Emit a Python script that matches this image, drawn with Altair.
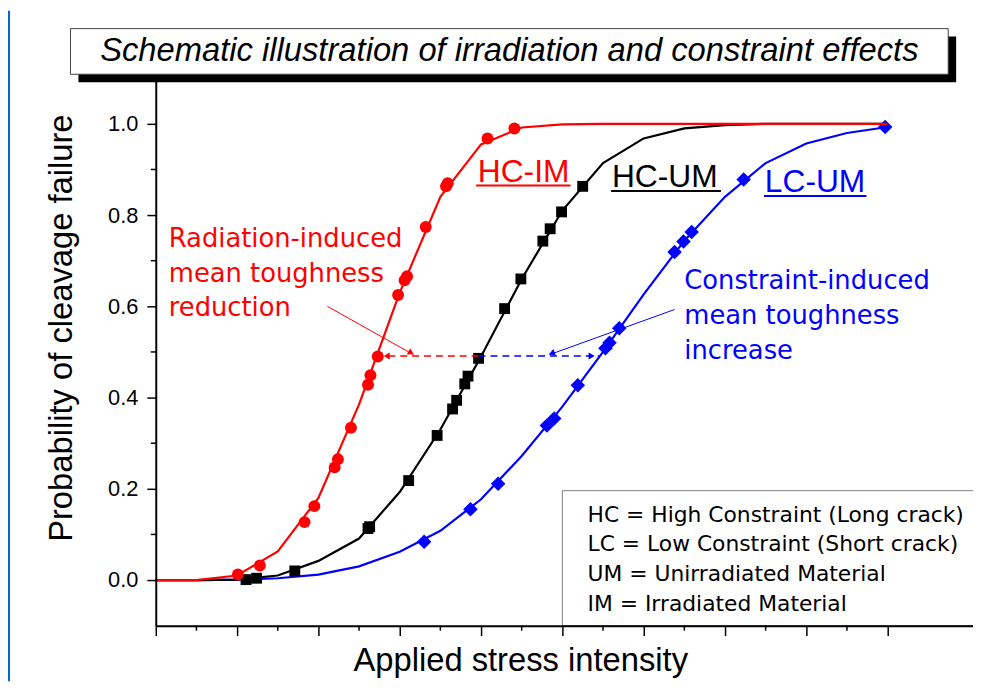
import altair as alt
import pandas as pd

# ---------------- data ----------------
series_names = ["HC-IM", "HC-UM", "LC-UM"]
series_colors = ["#FF0000", "#000000", "#0000FF"]

# fitted curves (polyline vertices)
curve_x_red = [0, 0.5, 1.0, 1.5, 2.0, 2.5, 3.0, 3.5, 4.0, 4.5, 5.0, 5.5, 9.0]
curve_y_red = [0, 0, 0.010, 0.063, 0.180, 0.385, 0.630, 0.840, 0.955, 0.992, 0.999, 1.0, 1.0]
curve_x_black = [0, 0.5, 1.0, 1.5, 2.0, 2.5, 3.0, 3.5, 4.0, 4.5, 5.0, 5.5, 6.0, 6.5, 7.0, 7.5, 9.0]
curve_y_black = [0, 0, 0.001, 0.010, 0.042, 0.091, 0.193, 0.330, 0.490, 0.660, 0.810, 0.914,
                 0.968, 0.990, 0.997, 1.0, 1.0]
curve_x_blue = [0, 0.5, 1.0, 1.5, 2.0, 2.5, 3.0, 3.5, 4.0, 4.5, 5.0, 5.5, 6.0, 6.5, 7.0, 7.5,
                8.0, 8.5, 9.0]
curve_y_blue = [0, 0, 0.001, 0.004, 0.012, 0.030, 0.062, 0.108, 0.177, 0.272, 0.380, 0.500,
                0.626, 0.744, 0.840, 0.914, 0.957, 0.980, 0.993]

# experimental points
pts_x_red = [1.01, 1.28, 1.83, 1.95, 2.20, 2.24, 2.40, 2.61, 2.64, 2.73, 2.98, 3.06, 3.09,
             3.32, 3.57, 3.59, 4.08, 4.41]
pts_y_red = [0.012, 0.032, 0.127, 0.162, 0.247, 0.265, 0.334, 0.428, 0.449, 0.490, 0.625,
             0.657, 0.666, 0.774, 0.863, 0.870, 0.968, 0.990]
pts_x_black = [1.11, 1.24, 1.71, 2.61, 2.63, 3.11, 3.46, 3.65, 3.70, 3.80, 3.84, 3.97, 4.29,
               4.49, 4.76, 4.85, 4.99, 5.25]
pts_y_black = [0.001, 0.004, 0.020, 0.113, 0.117, 0.218, 0.317, 0.375, 0.394, 0.430, 0.447,
               0.486, 0.595, 0.660, 0.743, 0.770, 0.807, 0.863]
pts_x_blue = [3.30, 3.87, 4.21, 4.81, 4.90, 5.19, 5.53, 5.58, 5.70, 6.38, 6.49, 6.59, 7.23, 8.97]
pts_y_blue = [0.084, 0.155, 0.211, 0.339, 0.354, 0.427, 0.508, 0.520, 0.552, 0.719, 0.742,
              0.763, 0.878, 0.993]

# axes
x_domain = [0, 10.05]
y_domain = [-0.1, 1.1]
x_major = [0, 1, 2, 3, 4, 5, 6, 7, 8, 9]
x_minor = [0.5, 1.5, 2.5, 3.5, 4.5, 5.5, 6.5, 7.5, 8.5]
y_major = [0.0, 0.2, 0.4, 0.6, 0.8, 1.0]
y_minor = [0.1, 0.3, 0.5, 0.7, 0.9]

# texts
title_text = ["Schematic illustration of irradiation and constraint effects"]
x_title = ["Applied stress intensity"]
y_title = ["Probability of cleavage failure"]

curve_labels = ["HC-IM", "HC-UM", "LC-UM"]
curve_label_x = [3.96, 5.61, 7.49]
curve_label_y = [0.872, 0.862, 0.851]
underline_x1 = [3.94, 5.60, 7.48]
underline_x2 = [5.10, 6.95, 8.74]
underline_y = [0.865, 0.853, 0.842]

red_note = ["Radiation-induced", "mean toughness", "reduction"]
red_note_x = [0.16, 0.16, 0.16]
red_note_y = [0.730, 0.654, 0.578]
blue_note = ["Constraint-induced", "mean toughness", "increase"]
blue_note_x = [6.50, 6.50, 6.50]
blue_note_y = [0.637, 0.561, 0.485]

key_lines = ["HC = High Constraint (Long crack)", "LC = Low Constraint (Short crack)",
             "UM = Unirradiated Material", "IM = Irradiated Material"]
key_x = [5.31, 5.31, 5.31, 5.31]
key_y = [0.128, 0.063, -0.002, -0.067]
key_box = [5.0, 10.4, 0.196, -0.1]  # x, x2, y, y2

# dashed shift lines (mean toughness level)
shift_x1 = [3.97, 3.97]
shift_x2 = [2.74, 5.46]
shift_y = [0.491, 0.491]
shift_colors = ["#FF0000", "#0000FF"]

# annotation arrows
arrow_x1 = [2.11, 6.38]
arrow_y1 = [0.600, 0.593]
arrow_x2 = [3.17, 4.84]
arrow_y2 = [0.494, 0.494]
arrow_colors = ["#FF0000", "#0000FF"]

# arrow heads
head_x = [2.84, 5.36, 3.14, 4.87]
head_y = [0.491, 0.491, 0.498, 0.497]
head_angle = [270, 90, 119, 250]
head_colors = ["#FF0000", "#0000FF", "#FF0000", "#0000FF"]

# ---------------- chart ----------------
xs = alt.Scale(domain=x_domain, nice=False, zero=False)
ys = alt.Scale(domain=y_domain, nice=False, zero=False)
x_axis = alt.Axis(values=x_major, labels=False, tickSize=10, title=None, domainWidth=2,
                  tickWidth=1.5, zindex=1, grid=False)
y_axis = alt.Axis(values=y_major, format=".1f", tickSize=9, labelPadding=9, title=None,
                  domainWidth=2, tickWidth=1.5, labelFont="Liberation Sans", labelFontSize=22,
                  labelColor="black", zindex=1, grid=False)
X = alt.X("x:Q", scale=xs, axis=x_axis)
Y = alt.Y("y:Q", scale=ys, axis=y_axis)
one = pd.DataFrame({"a": [0]})

W, H = 824, 552

# decoration: blue frame strip (only part visible inside the page)
frame = alt.Chart(one).mark_rect(color="#0066CC").encode(
    x=alt.value(-149), x2=alt.value(-147), y=alt.value(-68), y2=alt.value(H + 56))

# key box
key_df = pd.DataFrame({"x": [key_box[0]], "x2": [key_box[1]], "y": [key_box[2]], "y2": [key_box[3]]})
keybox = alt.Chart(key_df).mark_rect(fill="white", stroke="#7f7f7f", strokeWidth=1).encode(
    x=X, x2="x2:Q", y=Y, y2="y2:Q")

yminor = alt.Chart(pd.DataFrame({"y": y_minor})).mark_rule(color="black", strokeWidth=1.5).encode(
    y=Y, x=alt.value(-5), x2=alt.value(0))
xminor = alt.Chart(pd.DataFrame({"x": x_minor})).mark_rule(color="black", strokeWidth=1.5).encode(
    x=X, y=alt.value(H), y2=alt.value(H + 5))


def curve(xv, yv, color):
    return alt.Chart(pd.DataFrame({"x": xv, "y": yv, "o": list(range(len(xv)))})).mark_line(
        color=color, strokeWidth=2.2).encode(x=X, y=Y, order="o:Q")


def points(xv, yv, color, shape, size):
    return alt.Chart(pd.DataFrame({"x": xv, "y": yv})).mark_point(
        color=color, fill=color, filled=True, opacity=1, shape=shape, size=size).encode(x=X, y=Y)


blue_line = curve(curve_x_blue, curve_y_blue, series_colors[2])
blue_pts = points(pts_x_blue, pts_y_blue, series_colors[2], "diamond", 215)
black_line = curve(curve_x_black, curve_y_black, series_colors[1])
black_pts = points(pts_x_black, pts_y_black, series_colors[1], "square", 120)
red_line = curve(curve_x_red, curve_y_red, series_colors[0])
red_pts = points(pts_x_red, pts_y_red, series_colors[0], "circle", 145)

shift_df = pd.DataFrame({"x": shift_x1, "x2": shift_x2, "y": shift_y, "c": shift_colors})
shift = alt.Chart(shift_df).mark_rule(strokeDash=[7, 5], strokeWidth=1.5).encode(
    x=X, x2="x2:Q", y=Y, color=alt.Color("c:N", scale=None))

arrow_df = pd.DataFrame({"x": arrow_x1, "y": arrow_y1, "x2": arrow_x2, "y2": arrow_y2, "c": arrow_colors})
arrows = alt.Chart(arrow_df).mark_rule(strokeWidth=1).encode(
    x=X, y=Y, x2="x2:Q", y2="y2:Q", color=alt.Color("c:N", scale=None))

head_df = pd.DataFrame({"x": head_x, "y": head_y, "a": head_angle, "c": head_colors})
heads = alt.Chart(head_df).mark_point(shape="triangle-up", filled=True, opacity=1, size=50).encode(
    x=X, y=Y, angle=alt.Angle("a:Q", scale=None), color=alt.Color("c:N", scale=None))

lab_df = pd.DataFrame({"x": curve_label_x, "y": curve_label_y, "t": curve_labels, "c": series_colors})
labels = alt.Chart(lab_df).mark_text(align="left", baseline="alphabetic", font="Liberation Sans",
                                     fontSize=32).encode(
    x=X, y=Y, text="t:N", color=alt.Color("c:N", scale=None))
ul_df = pd.DataFrame({"x": underline_x1, "x2": underline_x2, "y": underline_y, "c": series_colors})
underlines = alt.Chart(ul_df).mark_rule(strokeWidth=2).encode(
    x=X, x2="x2:Q", y=Y, color=alt.Color("c:N", scale=None))

red_txt = alt.Chart(pd.DataFrame({"x": red_note_x, "y": red_note_y, "t": red_note})).mark_text(
    align="left", baseline="alphabetic", font="DejaVu Sans", fontSize=26, color="#FF0000").encode(
    x=X, y=Y, text="t:N")
blue_txt = alt.Chart(pd.DataFrame({"x": blue_note_x, "y": blue_note_y, "t": blue_note})).mark_text(
    align="left", baseline="alphabetic", font="DejaVu Sans", fontSize=26, color="#0000FF").encode(
    x=X, y=Y, text="t:N")
key_txt = alt.Chart(pd.DataFrame({"x": key_x, "y": key_y, "t": key_lines})).mark_text(
    align="left", baseline="alphabetic", font="DejaVu Sans", fontSize=22, color="black").encode(
    x=X, y=Y, text="t:N")

# title box with shadow
shadow = alt.Chart(one).mark_rect(color="black").encode(
    x=alt.value(-78), x2=alt.value(807), y=alt.value(-42), y2=alt.value(4))
tbox = alt.Chart(one).mark_rect(fill="white", stroke="#404040", strokeWidth=1).encode(
    x=alt.value(-86), x2=alt.value(799), y=alt.value(-50), y2=alt.value(-4))
ttext = alt.Chart(pd.DataFrame({"t": title_text})).mark_text(
    align="center", baseline="alphabetic", font="Liberation Sans", fontSize=33, fontStyle="italic",
    color="black").encode(x=alt.value(356.5), y=alt.value(-17), text="t:N")

xt = alt.Chart(pd.DataFrame({"t": x_title})).mark_text(
    align="center", baseline="alphabetic", font="Liberation Sans", fontSize=33, color="black").encode(
    x=alt.value(368), y=alt.value(598), text="t:N")
yt = alt.Chart(pd.DataFrame({"t": y_title})).mark_text(
    align="center", baseline="alphabetic", font="Liberation Sans", fontSize=33, color="black",
    angle=270).encode(x=alt.value(-84), y=alt.value(252), text="t:N")

chart = alt.layer(
    frame, keybox, yminor, xminor,
    blue_line, blue_pts, black_line, black_pts, red_line, red_pts,
    shift, arrows, heads, labels, underlines, red_txt, blue_txt, key_txt,
    shadow, tbox, ttext, xt, yt,
).properties(
    width=W, height=H,
    padding={"left": 149, "top": 68, "right": 0, "bottom": 56},
    autosize=alt.AutoSizeParams(type="none"),
    background="white",
).configure_view(stroke=None).configure_axis(
    domainColor="black", tickColor="black", grid=False)

chart.save("out.html", embed_options={"renderer": "svg", "actions": False})
